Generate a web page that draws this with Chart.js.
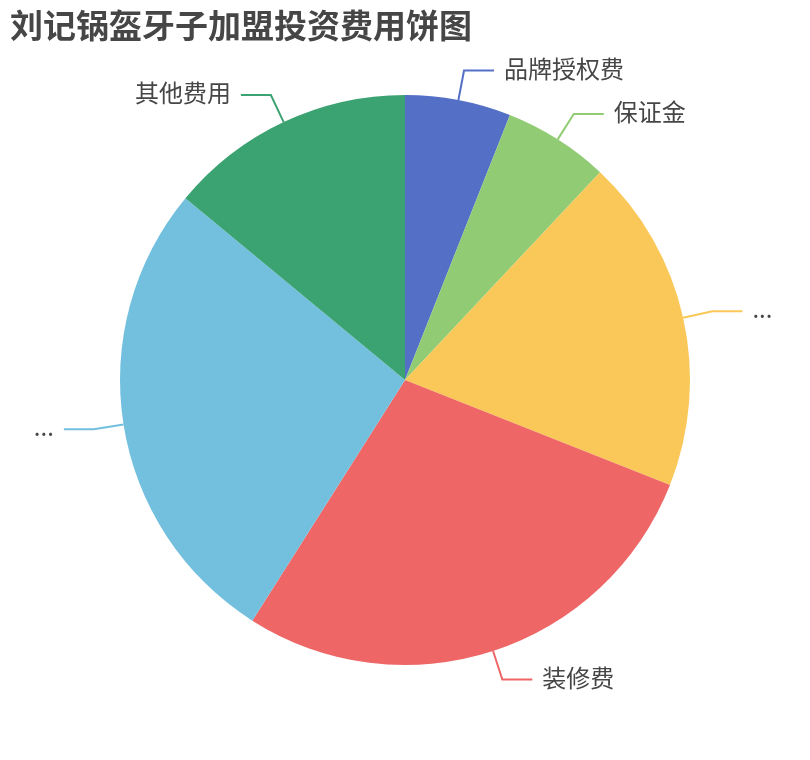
<!DOCTYPE html>
<html>
<head>
<meta charset="utf-8">
<script src="https://cdn.jsdelivr.net/npm/chart.js@4"></script>
<style>
html,body{margin:0;padding:0;background:#fff;}
#wrap{width:810px;height:760px;position:relative;}
</style>
</head>
<body>
<div id="wrap"><canvas id="c" width="810" height="760"></canvas></div>
<script>
const titleText = '刘记锅盔牙子加盟投资费用饼图';
const categories = ['品牌授权费', '保证金', '...', '装修费', '...', '其他费用'];
const values = [6, 6, 19, 28, 27, 14];
const colors = ['#5470c6', '#91cc75', '#fac858', '#ee6666', '#73c0de', '#3ba272'];

const FONT = '"Noto Sans CJK SC", "Noto Sans", sans-serif';

const outsideLabels = {
  id: 'outsideLabels',
  afterDatasetsDraw(chart) {
    const ctx = chart.ctx;
    const meta = chart.getDatasetMeta(0);
    ctx.save();
    meta.data.forEach((arc, i) => {
      const p = arc.getProps(['x', 'y', 'startAngle', 'endAngle', 'outerRadius'], true);
      const mid = (p.startAngle + p.endAngle) / 2;
      const cx = Math.cos(mid), cy = Math.sin(mid);
      const x0 = p.x + p.outerRadius * cx, y0 = p.y + p.outerRadius * cy;
      const x1 = p.x + (p.outerRadius + 30) * cx, y1 = p.y + (p.outerRadius + 30) * cy;
      const dir = cx >= 0 ? 1 : -1;
      const x2 = x1 + dir * 30, y2 = y1;
      ctx.strokeStyle = colors[i];
      ctx.lineWidth = 2;
      ctx.beginPath();
      ctx.moveTo(x0, y0);
      ctx.lineTo(x1, y1);
      ctx.lineTo(x2, y2);
      ctx.stroke();
      ctx.fillStyle = '#464646';
      ctx.font = '24px ' + FONT;
      ctx.textBaseline = 'middle';
      ctx.textAlign = dir > 0 ? 'left' : 'right';
      ctx.fillText(chart.data.labels[i], x2 + dir * 10, y2 - 2);
    });
    ctx.restore();
  }
};

const titlePlugin = {
  id: 'titleText',
  afterDraw(chart) {
    const ctx = chart.ctx;
    ctx.save();
    ctx.fillStyle = '#464646';
    ctx.font = 'bold 33px ' + FONT;
    ctx.textBaseline = 'middle';
    ctx.textAlign = 'left';
    ctx.fillText(titleText, 10, 25);
    ctx.restore();
  }
};

new Chart(document.getElementById('c'), {
  type: 'pie',
  data: {
    labels: categories,
    datasets: [{
      data: values,
      backgroundColor: colors,
      borderWidth: 0
    }]
  },
  options: {
    responsive: false,
    animation: false,
    layout: { padding: { top: 95, bottom: 95, left: 120, right: 120 } },
    plugins: {
      legend: { display: false },
      tooltip: { enabled: false },
      title: { display: false }
    }
  },
  plugins: [outsideLabels, titlePlugin]
});
</script>
</body>
</html>
